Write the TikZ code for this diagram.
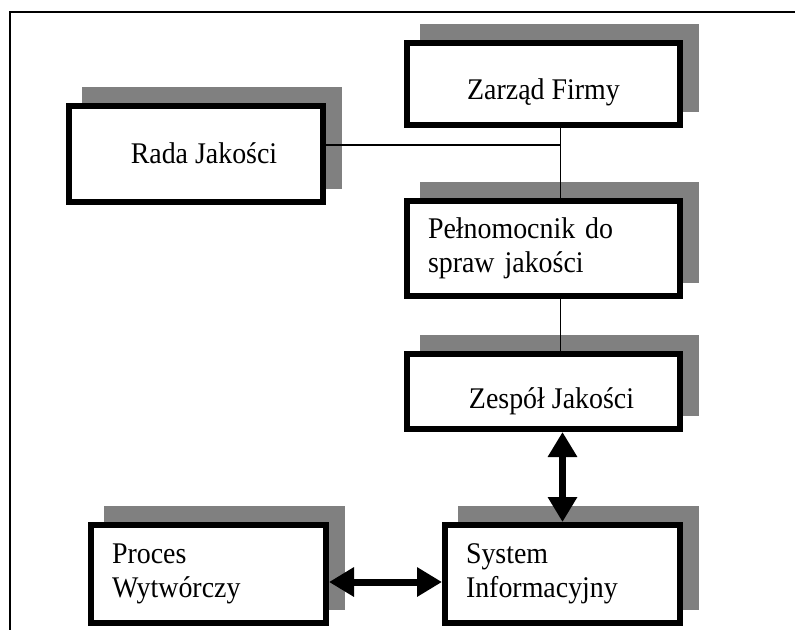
\documentclass[tikz,border=0pt]{standalone}
\usepackage{fontspec}
\setmainfont{Liberation Serif}[FakeStretch=0.93]
\usetikzlibrary{positioning,arrows.meta}
\definecolor{shadowgray}{RGB}{128,128,128}
\newcommand{\boxfont}{\fontsize{30}{34}\selectfont}

\tikzset{
  orgbox/.style={draw, line width=6pt, fill=white, font=\boxfont, inner sep=0pt,
    preaction={draw=shadowgray, fill=shadowgray, transform canvas={xshift=16pt,yshift=16pt}}},
  colbox/.style={orgbox, minimum width=273pt},
  lowbox/.style={orgbox, minimum width=235pt, minimum height=98pt},
  twoline/.style={align=left, text width=#1},
  droptext/.style={text height=#1, text depth=6pt},
  thinline/.style={line width=1.5pt},
  bigarrow/.style={line width=7pt, {Triangle[length=25pt,width=28pt]}-{Triangle[length=25pt,width=28pt]}}
}

\begin{document}
\begin{tikzpicture}[x=1pt,y=-1pt]
    \useasboundingbox (0,0) rectangle (795,630);
    \draw[line width=2pt] (795,12) -- (10,12) -- (10,630);
    \node[colbox,minimum height=82pt,droptext=36pt] (zarzad) at (543.5,84) {Zarząd Firmy};
    \node[colbox,minimum height=95pt,twoline=231pt,below=70pt of zarzad] (pelnomocnik) {Pełnomocnik do\\spraw jakości};
    \node[colbox,minimum height=75pt,droptext=40pt,below=52pt of pelnomocnik] (zespol) {\hspace*{16pt}Zespół Jakości};
    \node[orgbox,minimum width=254pt,minimum height=96pt,droptext=24pt] (rada) at (196,154) {\hspace*{16pt}Rada Jakości};
    \node[lowbox,twoline=193pt,anchor=north east] (system) at ([yshift=-90pt]zespol.south east) {System\\Informacyjny};
    \node[lowbox,twoline=193pt,left=113pt of system] (proces) {Proces\\Wytwórczy};
    \coordinate (trunk) at ([xshift=17pt]zarzad.south);
    \draw[thinline] (trunk) -- (trunk |- pelnomocnik.north);
    \draw[thinline] ([yshift=9pt]rada.east) -- ([yshift=9pt]rada.east -| trunk);
    \draw[thinline] (trunk |- pelnomocnik.south) -- (trunk |- zespol.north);
    \draw[bigarrow] (zespol.south -| system.north) -- (system.north);
    \draw[bigarrow] ([yshift=-8pt]proces.east) -- ([yshift=-8pt]system.west);
\end{tikzpicture}
\end{document}
